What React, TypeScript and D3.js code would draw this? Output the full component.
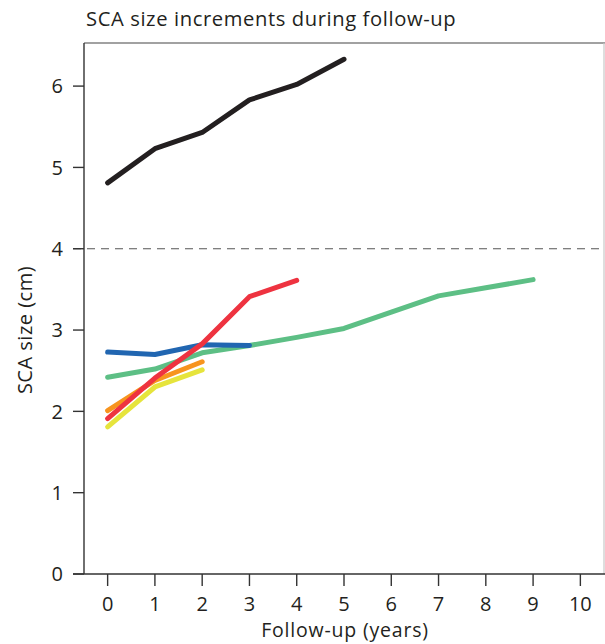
import React from "react";
import * as d3 from "d3";

const years = [0, 1, 2, 3, 4, 5, 6, 7, 8, 9];
const blackSeries = [4.81, 5.23, 5.43, 5.83, 6.02, 6.33];
const greenSeries = [2.42, 2.52, 2.72, 2.81, 2.91, 3.02, 3.22, 3.42, 3.52, 3.62];
const blueSeries = [2.73, 2.70, 2.82, 2.81];
const redSeries = [1.91, 2.41, 2.83, 3.41, 3.61];
const orangeSeries = [2.01, 2.38, 2.61];
const yellowSeries = [1.81, 2.30, 2.51];
const xTicks = [0, 1, 2, 3, 4, 5, 6, 7, 8, 9, 10];
const yTicks = [0, 1, 2, 3, 4, 5, 6];
const threshold = 4;

const series = [
  { name: "green", values: greenSeries, color: "#5dbf85" },
  { name: "blue", values: blueSeries, color: "#2166b1" },
  { name: "orange", values: orangeSeries, color: "#f7941e" },
  { name: "yellow", values: yellowSeries, color: "#e6e43c" },
  { name: "red", values: redSeries, color: "#ee3340" },
  { name: "black", values: blackSeries, color: "#231f20" },
];

const FONT = "'Open Sans', 'Noto Sans', sans-serif";

export default function App() {
  const x = d3.scaleLinear().domain([-0.5, 10.5]).range([84, 604]);
  const y = d3.scaleLinear().domain([0, 6.53]).range([574, 43]);
  const line = d3
    .line<number>()
    .x((_, i) => x(years[i]))
    .y((d) => y(d));

  return (
    <svg
      width={605}
      height={644}
      style={{ position: "absolute", left: 0, top: 0, background: "#fff" }}
      fontFamily={FONT}
    >
      <rect x={0} y={0} width={605} height={644} fill="#fff" />
      <text x={86} y={26} fontSize={20.2} letterSpacing={0.6} fill="#231f20">
        SCA size increments during follow-up
      </text>
      {/* frame */}
      <line x1={84} x2={605} y1={43} y2={43} stroke="#444" strokeWidth={1.2} />
      <line x1={604} x2={604} y1={43} y2={574} stroke="#c8c8c8" strokeWidth={1.2} />
      {/* dashed threshold */}
      <line
        x1={73}
        x2={604}
        y1={y(threshold)}
        y2={y(threshold)}
        stroke="#555"
        strokeWidth={1.2}
        strokeDasharray="8,6"
      />
      {/* axes */}
      <line x1={84} x2={84} y1={43} y2={574} stroke="#333" strokeWidth={1.4} />
      <line x1={73} x2={605} y1={574} y2={574} stroke="#333" strokeWidth={1.4} />
      {yTicks.map((t) => (
        <g key={"y" + t}>
          <line x1={73} x2={84} y1={y(t)} y2={y(t)} stroke="#333" strokeWidth={1.4} />
          <text
            x={63}
            y={y(t)}
            dy="0.36em"
            textAnchor="end"
            fontSize={20}
            fill="#231f20"
          >
            {t}
          </text>
        </g>
      ))}
      {xTicks.map((t) => (
        <g key={"x" + t}>
          <line x1={x(t)} x2={x(t)} y1={574} y2={586} stroke="#333" strokeWidth={1.4} />
          <text
            x={x(t)}
            y={611}
            textAnchor="middle"
            fontSize={20}
            fill="#231f20"
          >
            {t}
          </text>
        </g>
      ))}
      <text x={345} y={637} textAnchor="middle" fontSize={19.5} letterSpacing={0.8} fill="#231f20">
        Follow-up (years)
      </text>
      <text
        transform={`translate(32,330) rotate(-90)`}
        textAnchor="middle"
        fontSize={20}
        letterSpacing={0.5}
        fill="#231f20"
      >
        SCA size (cm)
      </text>
      {series.map((s) => (
        <path
          key={s.name}
          d={line(s.values) || ""}
          fill="none"
          stroke={s.color}
          strokeWidth={5}
          strokeLinecap="round"
          strokeLinejoin="round"
        />
      ))}
    </svg>
  );
}
